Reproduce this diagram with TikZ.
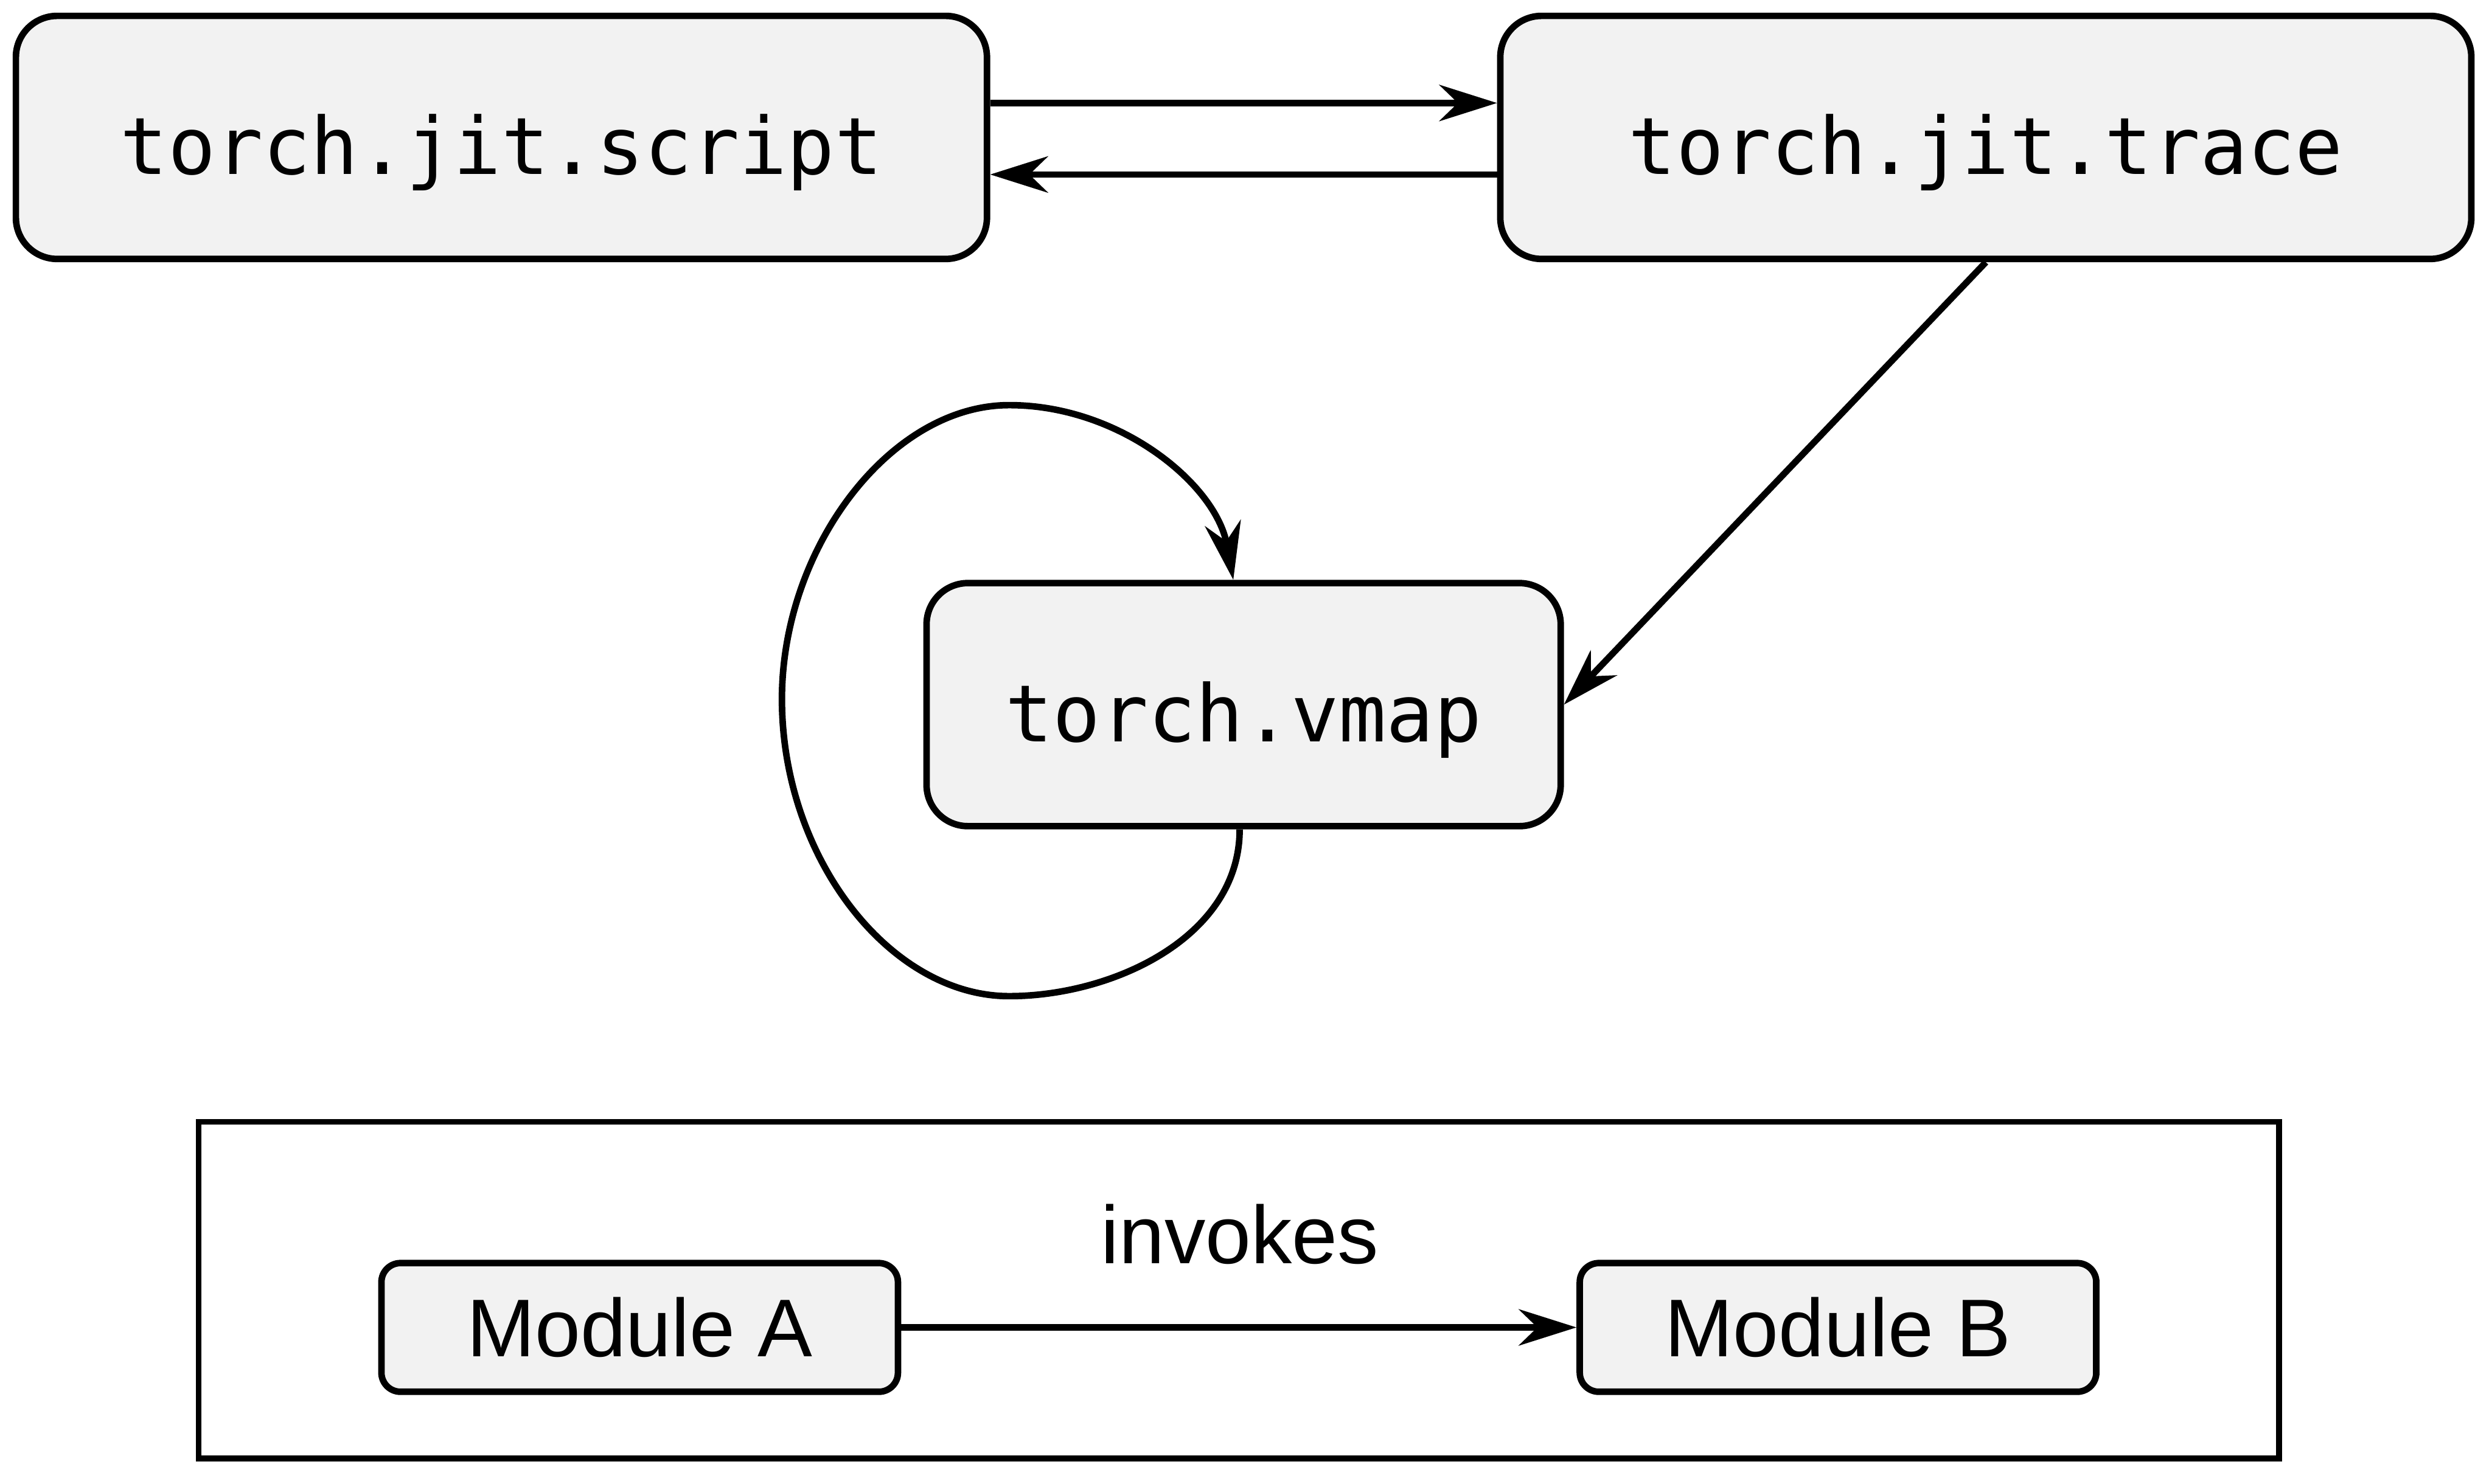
\documentclass[tikz,border=0pt]{standalone}
\usepackage{fontspec}
\setmainfont{Liberation Sans}
\newfontfamily\codefont{DejaVu Sans Mono}
\usetikzlibrary{arrows.meta}
\definecolor{boxfill}{HTML}{F2F2F2}
\begin{document}
\begin{tikzpicture}[x=0.3mm, y=-0.3mm, line width=3.5pt,
  bigbox/.style={draw, fill=boxfill, rounded corners=7.8mm, minimum height=45.9mm,
    inner sep=0pt, text height=14mm, text depth=0pt, font=\fontsize{42.5}{50}\codefont},
  modbox/.style={draw, fill=boxfill, rounded corners=3.6mm, minimum width=97.5mm,
    minimum height=24.3mm, inner sep=0pt, font=\fontsize{44}{52}\selectfont},
  arr/.style={-{Stealth[length=31pt, width=19.5pt, inset=10pt]}}]
\useasboundingbox (0,0) rectangle (1568,934);
% main nodes
\node[bigbox, minimum width=183.3mm] (script) at (315.5,86.5) {torch.jit.script};
\node[bigbox, minimum width=183.3mm] (trace) at (1249.5,86.5) {torch.jit.trace};
\node[bigbox, minimum width=119.7mm] (vmap) at (782.5,443.5) {torch.vmap};
% connectors
\draw[arr] ([yshift=6.5mm]script.east) -- ([yshift=6.5mm]trace.west);
\draw[arr] ([yshift=-7mm]trace.west) -- ([yshift=-7mm]script.east);
\draw[arr] (trace.south) -- (vmap.east);
\coordinate (lb) at (635,627);
\coordinate (ll) at (492,440);
\coordinate (lt) at (635,255);
\draw[arr] ([xshift=-0.75mm]vmap.south) .. controls (780,590) and (700,627) .. (lb)
  .. controls (560,627) and (492,540) .. (ll)
  .. controls (492,345) and (560,255) .. (lt)
  .. controls (705,255) and (765,305) .. ([xshift=-1.95mm]vmap.north);
% legend
\node[draw, line width=3pt, minimum width=392.7mm, minimum height=63.6mm, inner sep=0pt]
  (legend) at (779.5,812) {};
\node[font=\fontsize{44}{52}\selectfont] (invokes) at (780,777) {invokes};
\node[modbox] (modA) at (402.5,835.5) {Module A};
\node[modbox] (modB) at (1156.5,835.5) {Module B};
\draw[arr] (modA) -- (modB);
\end{tikzpicture}
\end{document}
